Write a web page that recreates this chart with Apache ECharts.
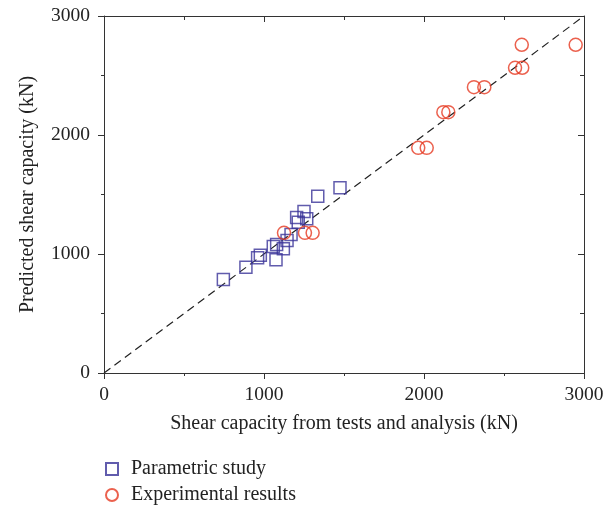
<!DOCTYPE html>
<html>
<head>
<meta charset="utf-8">
<script src="https://cdn.jsdelivr.net/npm/echarts@6/dist/echarts.min.js"></script>
<style>
  html, body { margin: 0; padding: 0; background: #fff; }
  #chart { width: 614px; height: 511px; }
</style>
</head>
<body>
<div id="chart"></div>
<script>
// parametric study: [tests/analysis, predicted]
var parametric = [
    [746, 786], [887, 889], [960, 968], [977, 990], [1075, 951],
    [1079, 1080], [1058, 1063], [1121, 1044], [1144, 1113], [1169, 1164],
    [1214, 1267], [1204, 1307], [1250, 1357], [1267, 1296], [1336, 1486],
    [1475, 1556]
];
var experimental = [
    [1125, 1178], [1256, 1178], [1304, 1178],
    [1964, 1892], [2017, 1892], [2121, 2192], [2152, 2192],
    [2312, 2402], [2377, 2402], [2569, 2565], [2614, 2565],
    [2611, 2758], [2948, 2758]
];
var equality = [[0, 0], [3000, 3000]];

var font = 'Liberation Serif';
var axisMin = 0, axisMax = 3000, step = 1000;

function outerAxis(name, gap) {
    return {
        type: 'value', min: axisMin, max: axisMax, interval: step,
        name: name, nameLocation: 'middle', nameGap: gap,
        nameTextStyle: { fontFamily: font, fontSize: 20, color: '#222' },
        axisLine: { show: true, onZero: false, lineStyle: { color: '#333', width: 1 } },
        axisTick: { show: true, inside: false, length: 6, lineStyle: { color: '#333' } },
        minorTick: { show: true, splitNumber: 2, length: 3, lineStyle: { color: '#333' } },
        axisLabel: {
            fontFamily: font, fontSize: 19.5, color: '#222', margin: 12,
            formatter: function (v) { return String(v); }
        },
        splitLine: { show: false }
    };
}
function innerAxis(pos) {
    return {
        type: 'value', min: axisMin, max: axisMax, interval: step, position: pos,
        axisLine: { show: true, onZero: false, lineStyle: { color: '#333', width: 1 } },
        axisTick: { show: true, inside: true, length: 6, lineStyle: { color: '#333' } },
        minorTick: { show: true, splitNumber: 2, length: 4, lineStyle: { color: '#333' } },
        axisLabel: { show: false },
        splitLine: { show: false }
    };
}

var chart = echarts.init(document.getElementById('chart'));
var xBottom = outerAxis('Shear capacity from tests and analysis (kN)', 41);
var yLeft = outerAxis('Predicted shear capacity (kN)', 66);
yLeft.axisLabel.margin = 14;

chart.setOption({
    animation: false,
    grid: { left: 104, right: 30, top: 16, bottom: 138 },
    legend: {
        orient: 'vertical', left: 100, top: 454, height: 57, itemGap: 6,
        itemWidth: 12, itemHeight: 12,
        textStyle: { fontFamily: font, fontSize: 20, color: '#222', padding: [0, 0, 0, 8] },
        data: ['Parametric study', 'Experimental results']
    },
    xAxis: [xBottom, innerAxis('top')],
    yAxis: [yLeft, innerAxis('right')],
    series: [
        {
            type: 'line', data: equality, showSymbol: false, silent: true,
            lineStyle: { color: '#222', width: 1.2, type: [8, 5] }, z: 1
        },
        {
            name: 'Parametric study', type: 'scatter', data: parametric,
            symbol: 'rect', symbolSize: 12,
            itemStyle: { color: 'rgba(255,255,255,0)', borderColor: '#3a3399', borderWidth: 1.5 }
        },
        {
            name: 'Experimental results', type: 'scatter', data: experimental,
            symbol: 'circle', symbolSize: 13,
            itemStyle: { color: 'rgba(255,255,255,0)', borderColor: '#e63a22', borderWidth: 1.5 }
        }
    ]
});
</script>
</body>
</html>
